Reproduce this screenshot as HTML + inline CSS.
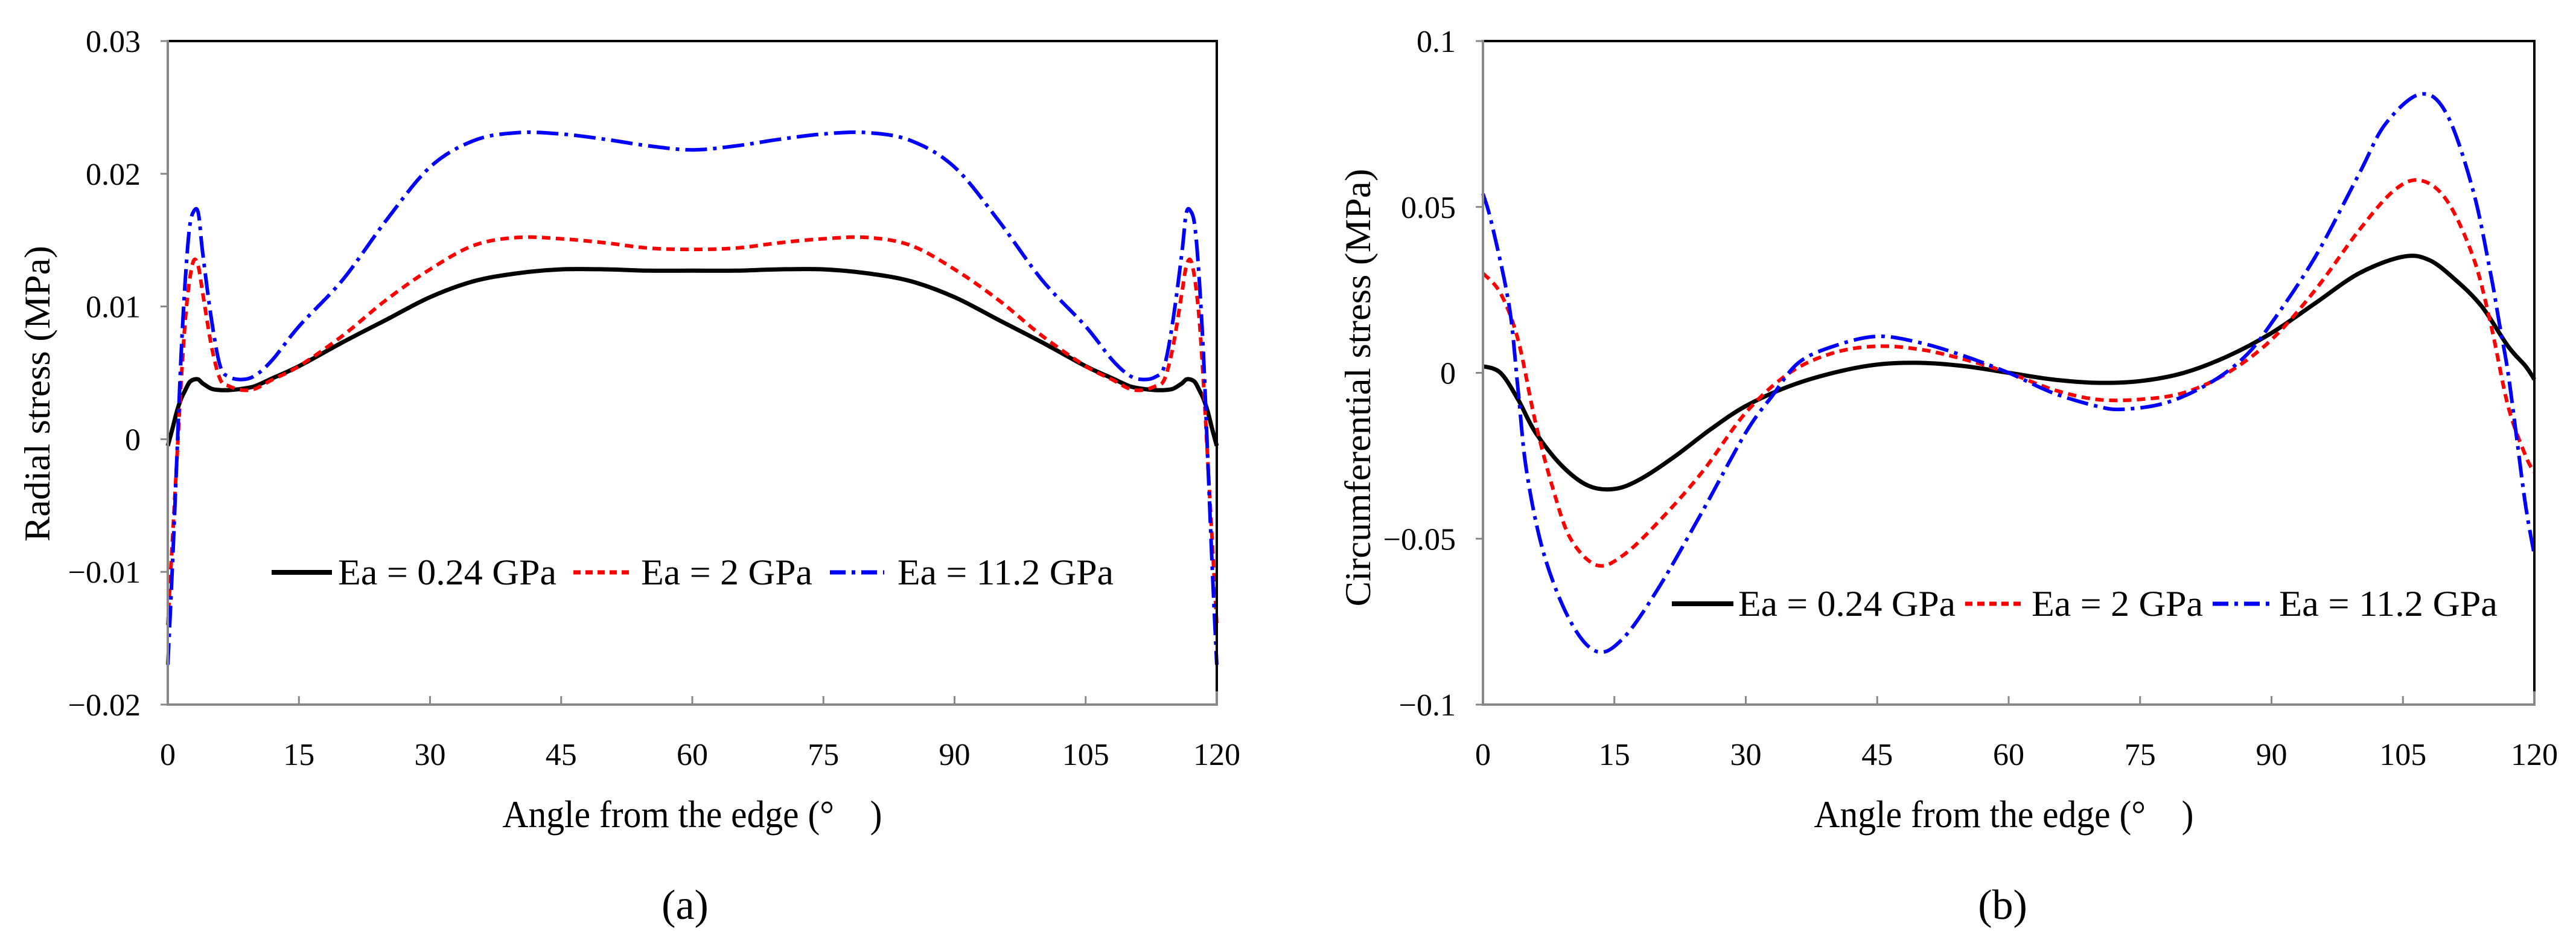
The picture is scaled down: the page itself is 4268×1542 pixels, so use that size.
<!DOCTYPE html>
<html><head><meta charset="utf-8"><style>
html,body{margin:0;padding:0;background:#fff;}
svg, svg text{font-family:"Liberation Serif",serif;}
svg{display:block;}
</style></head><body>
<svg id="fig" width="4268" height="1542" viewBox="0 0 4268 1542" xmlns="http://www.w3.org/2000/svg" font-family="Liberation Serif, serif"></svg>
<script>
// ---- Chart (a) data ----
const angleA = [0,0.5,1,1.5,2,2.5,3,3.5,4,5,6,7,8.5,10,12,15,20,25,30,35,40,45,50,55,60,65,70,75,80,85,90,95,100,105,108,110,111.5,113,114,115,116,116.5,117,117.5,118,118.5,119,119.5,120];
const blackA = [-0.0005,0.0007,0.002,0.003,0.0037,0.0043,0.0045,0.0045,0.0042,0.0038,0.0037,0.0037,0.0038,0.004,0.0046,0.0055,0.0073,0.009,0.0107,0.0119,0.0125,0.0128,0.0128,0.0127,0.0127,0.0127,0.0128,0.0128,0.0125,0.0119,0.0107,0.009,0.0073,0.0055,0.0046,0.004,0.0038,0.0037,0.0037,0.0038,0.0042,0.0045,0.0045,0.0043,0.0037,0.003,0.002,0.0007,-0.0005];
const redA = [-0.014,-0.008,-0.002,0.004,0.009,0.012,0.0135,0.013,0.011,0.007,0.0045,0.004,0.0037,0.0038,0.0045,0.0055,0.0078,0.0105,0.0128,0.0146,0.0152,0.0151,0.0148,0.0144,0.0143,0.0144,0.0148,0.0151,0.0152,0.0146,0.0128,0.0105,0.0078,0.0055,0.0045,0.0038,0.0037,0.004,0.0045,0.007,0.011,0.013,0.0135,0.012,0.009,0.004,-0.002,-0.008,-0.014];
const blueA = [-0.017,-0.01,-0.002,0.006,0.012,0.016,0.0172,0.017,0.014,0.009,0.0055,0.0047,0.0045,0.0048,0.006,0.0085,0.012,0.0165,0.0205,0.0225,0.0231,0.023,0.0226,0.0221,0.0218,0.0221,0.0226,0.023,0.0231,0.0225,0.0205,0.0165,0.012,0.0085,0.006,0.0048,0.0045,0.0047,0.0055,0.009,0.014,0.017,0.0172,0.016,0.012,0.006,-0.002,-0.01,-0.017];
const yTicksA = [-0.02,-0.01,0,0.01,0.02,0.03];
const yTickLabelsA = ["\u22120.02","\u22120.01","0","0.01","0.02","0.03"];
// ---- Chart (b) data ----
const angleBk = [0,2,4,6,9,12,15,18,22,26,30,35,40,45,50,55,60,65,70,75,80,85,90,95,100,105,108,111,114,117,119,120];
const blackB = [0.002,0.0,-0.008,-0.018,-0.028,-0.034,-0.035,-0.032,-0.025,-0.017,-0.010,-0.004,0.0,0.0025,0.003,0.002,0.0,-0.002,-0.003,-0.0025,0.0,0.005,0.012,0.021,0.030,0.035,0.034,0.028,0.020,0.008,0.002,-0.002];
const angleBr = [0,2,4,6,8,10,13,16,20,25,30,35,40,45,50,55,60,65,70,75,80,85,90,95,100,104,107,110,113,115,117,119,120];
const redB = [0.030,0.024,0.010,-0.015,-0.035,-0.050,-0.058,-0.055,-0.045,-0.030,-0.012,0.0,0.006,0.008,0.007,0.004,0.0,-0.005,-0.008,-0.008,-0.006,0.0,0.010,0.025,0.043,0.055,0.058,0.052,0.035,0.015,-0.010,-0.025,-0.030];
const angleBb = [0,1,3,4,5,7,10,13,16,20,25,30,33,36,40,45,50,55,60,65,70,73,78,83,87,90,95,100,103,107,110,113,115,116,117,118,119,120];
const blueB = [0.054,0.045,0.020,-0.005,-0.030,-0.055,-0.075,-0.084,-0.080,-0.065,-0.042,-0.018,-0.007,0.003,0.008,0.011,0.009,0.005,0.0,-0.006,-0.010,-0.011,-0.009,-0.003,0.005,0.015,0.035,0.060,0.075,0.084,0.078,0.055,0.030,0.015,0.0,-0.020,-0.040,-0.055];
const yTicksB = [-0.1,-0.05,0,0.05,0.1];
const yTickLabelsB = ["\u22120.1","\u22120.05","0","0.05","0.1"];
const xTicks = [0,15,30,45,60,75,90,105,120];
const legendLabels = ["Ea = 0.24 GPa","Ea = 2 GPa","Ea = 11.2 GPa"];

const NS="http://www.w3.org/2000/svg";
const svg=document.getElementById('fig');
function mk(tag,attrs,parent){const e=document.createElementNS(NS,tag);for(const k in attrs)e.setAttribute(k,attrs[k]);if(tag==='text')e.setAttribute('font-family','Liberation Serif, serif');(parent||svg).appendChild(e);return e;}

function smoothPath(pts){
  let d='M'+pts[0][0].toFixed(1)+','+pts[0][1].toFixed(1);
  for(let i=0;i<pts.length-1;i++){
    const p0=pts[Math.max(0,i-1)],p1=pts[i],p2=pts[i+1],p3=pts[Math.min(pts.length-1,i+2)];
    const c1x=p1[0]+(p2[0]-p0[0])/6,c1y=p1[1]+(p2[1]-p0[1])/6;
    const c2x=p2[0]-(p3[0]-p1[0])/6,c2y=p2[1]-(p3[1]-p1[1])/6;
    d+=' C'+c1x.toFixed(1)+','+c1y.toFixed(1)+' '+c2x.toFixed(1)+','+c2y.toFixed(1)+' '+p2[0].toFixed(1)+','+p2[1].toFixed(1);
  }
  return d;
}
const styles=[{stroke:'#000',dash:'none',w:7},{stroke:'#ff0000',dash:'14,9',w:6},{stroke:'#0000ff',dash:'36,10,6,10',w:6}];

function chart(cfg){
  const g=mk('g',{});
  
  
  const L=cfg.left,R=cfg.right,T=68,B=1167;
  const sx=v=>L+(v-0)/120*(R-L);
  const sy=v=>B-(v-cfg.ymin)/(cfg.ymax-cfg.ymin)*(B-T);
  cfg.series.forEach((s,i)=>{
    const pts=s.x.map((a,j)=>[sx(a),sy(s.y[j])]);
    const p=mk('path',{d:smoothPath(pts),fill:'none',stroke:styles[i].stroke,'stroke-width':styles[i].w,'stroke-dasharray':styles[i].dash,'stroke-linejoin':'round'},g);
    
    
  });
  const fr=mk('path',{d:`M${L},${T} L${R},${T} L${R},${B-22}`,fill:'none',stroke:'#000','stroke-width':4},g);
  
  
  const ya=mk('line',{x1:L,y1:T-2,x2:L,y2:B+2,stroke:'#888','stroke-width':4},g);
  
  
  const xa=mk('path',{d:`M${L-2},${B} L${R},${B} L${R},${B-22}`,fill:'none',stroke:'#888','stroke-width':4},g);
  
  
  xTicks.forEach(t=>{
    const x=sx(t);
    const tk=mk('line',{x1:x,y1:B,x2:x,y2:B-14,stroke:'#888','stroke-width':3},g);
    
    
    const lb=mk('text',{x:x,y:B+100,'font-size':52,'text-anchor':'middle'},g);
    lb.textContent=String(t);
    
    
  });
  cfg.yt.forEach((t,i)=>{
    const y=sy(t);
    const tk=mk('line',{x1:L-12,y1:y,x2:L,y2:y,stroke:'#888','stroke-width':3},g);
    
    
    const lb=mk('text',{x:L-45,y:y+18,'font-size':52,'text-anchor':'end'},g);
    lb.textContent=cfg.ytl[i];
    
    
  });
  const xt=mk('text',{x:cfg.xtitleX,y:1370,'font-size':64,'text-anchor':'middle',textLength:629,lengthAdjust:'spacingAndGlyphs'},g);
  xt.textContent='Angle from the edge (\u00B0\u2003)';
  
  
  const ytt=mk('text',{x:0,y:0,'font-size':60,'text-anchor':'middle',textLength:cfg.ytitleLen,lengthAdjust:'spacingAndGlyphs',transform:`translate(${cfg.ytitleX},${cfg.ytitleY}) rotate(-90)`},g);
  ytt.textContent=cfg.ytitle;
  
  
  const cap=mk('text',{x:cfg.capX,y:1522,'font-size':70,'text-anchor':'middle'},g);
  cap.textContent=cfg.cap;
  
  
  cfg.legend.forEach((e,i)=>{
    const lg=mk('g',{},g);
    
    
    mk('line',{x1:e.lx1,y1:cfg.legY,x2:e.lx2,y2:cfg.legY,stroke:styles[i].stroke,'stroke-width':styles[i].w+1,'stroke-dasharray':i==0?'none':(i==1?'12,8':'26,10,6,10')},lg);
    const tx=mk('text',{x:e.tx,y:cfg.legY+20,'font-size':60,textLength:e.tl,lengthAdjust:'spacingAndGlyphs'},lg);
    tx.textContent=legendLabels[i];
  });
}

chart({name:'chart-radial-stress',left:278,right:2016,ymin:-0.02,ymax:0.03,yt:yTicksA,ytl:yTickLabelsA,
  series:[{id:'ea-0.24',x:angleA,y:blackA},{id:'ea-2',x:angleA,y:redA},{id:'ea-11.2',x:angleA,y:blueA}],
  xtitleX:1147,ytitle:'Radial stress (MPa)',ytitleX:82,ytitleY:652,ytitleLen:490,capX:1135,cap:'(a)',
  legY:948,legend:[{lx1:450,lx2:550,tx:560,tl:362},{lx1:950,lx2:1045,tx:1062,tl:284},{lx1:1375,lx2:1465,tx:1487,tl:358}]});
chart({name:'chart-circumferential-stress',left:2457,right:4199,ymin:-0.1,ymax:0.1,yt:yTicksB,ytl:yTickLabelsB,
  series:[{id:'ea-0.24',x:angleBk,y:blackB},{id:'ea-2',x:angleBr,y:redB},{id:'ea-11.2',x:angleBb,y:blueB}],
  xtitleX:3320,ytitle:'Circumferential stress (MPa)',ytitleX:2270,ytitleY:642,ytitleLen:725,capX:3318,cap:'(b)',
  legY:1000,legend:[{lx1:2770,lx2:2872,tx:2880,tl:360},{lx1:3256,lx2:3350,tx:3366,tl:284},{lx1:3666,lx2:3768,tx:3776,tl:362}]});
</script>
</body></html>
